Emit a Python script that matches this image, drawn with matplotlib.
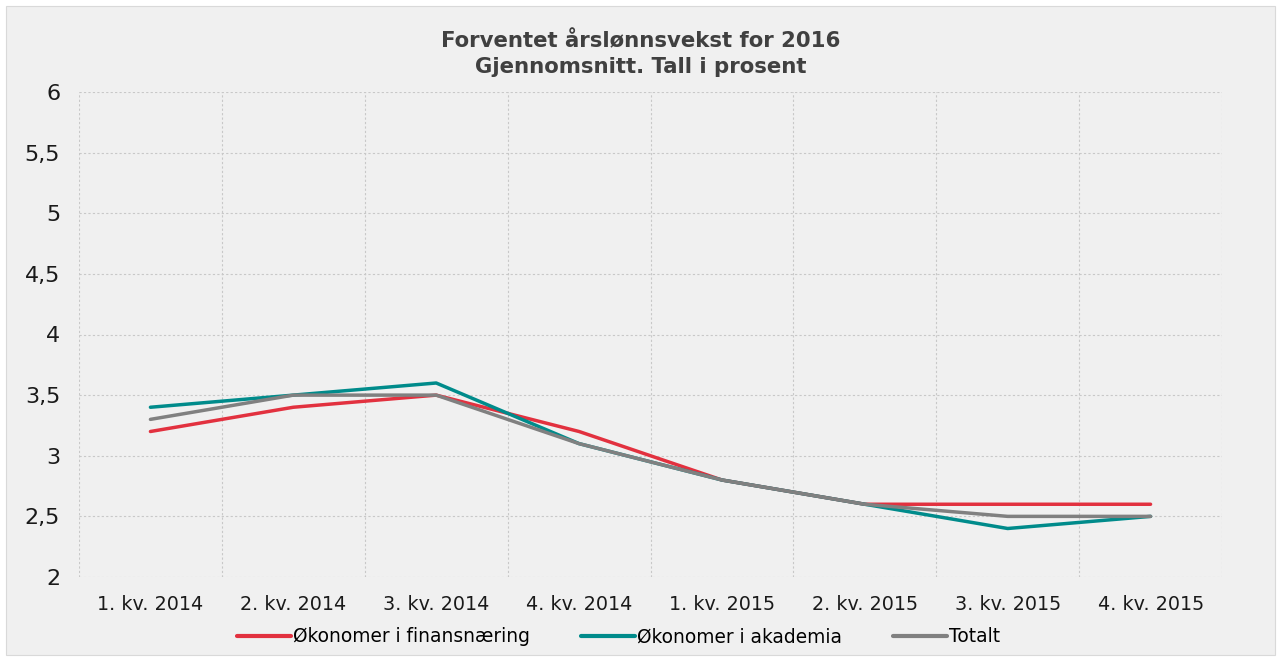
import matplotlib.pyplot as plt
from matplotlib.patches import Rectangle

plt.rcParams["font.family"] = ["DejaVu Sans"]

categories = ["1. kv. 2014", "2. kv. 2014", "3. kv. 2014", "4. kv. 2014",
              "1. kv. 2015", "2. kv. 2015", "3. kv. 2015", "4. kv. 2015"]
finans = [3.2, 3.4, 3.5, 3.2, 2.8, 2.6, 2.6, 2.6]
akademia = [3.4, 3.5, 3.6, 3.1, 2.8, 2.6, 2.4, 2.5]
totalt = [3.3, 3.5, 3.5, 3.1, 2.8, 2.6, 2.5, 2.5]
yticks = [2, 2.5, 3, 3.5, 4, 4.5, 5, 5.5, 6]
ytick_labels = ["2", "2,5", "3", "3,5", "4", "4,5", "5", "5,5", "6"]

BG = "#f0f0f0"

fig = plt.figure(figsize=(12.81, 6.60), dpi=100, facecolor="white")
fig.patches.append(Rectangle((6 / 1281, 5 / 660), 1269 / 1281, 649 / 660,
                             transform=fig.transFigure, facecolor=BG,
                             edgecolor="#d9d9d9", linewidth=0.8, zorder=-5))

ax = fig.add_axes([79 / 1281, 1 - 577 / 660, (1222 - 79) / 1281, (577 - 92) / 660])
ax.set_zorder(2)
ax.set_facecolor(BG)

x = range(len(categories))
ax.plot(x, finans, color="#e2313f", lw=2.5, label="Økonomer i finansnæring",
        solid_capstyle="round", zorder=3)
ax.plot(x, akademia, color="#008b8b", lw=2.5, label="Økonomer i akademia",
        solid_capstyle="round", zorder=3)
ax.plot(x, totalt, color="#808080", lw=2.5, label="Totalt",
        solid_capstyle="round", zorder=4)

ax.set_xlim(-0.5, len(categories) - 0.5)
ax.set_ylim(2, 6)
ax.set_yticks(yticks)
ax.set_yticklabels(ytick_labels, fontsize=16, color="#1a1a1a")
ax.set_xticks(list(x))
ax.set_xticklabels(categories, fontsize=13.8, color="#1a1a1a")
ax.set_xticks([i - 0.5 for i in range(len(categories) + 1)], minor=True)
ax.tick_params(which="both", length=0)
ax.tick_params(axis="x", pad=13)
ax.tick_params(axis="y", pad=13.5)
ax.grid(True, axis="y", which="major", color="#c8c8c8", linestyle=(0, (2, 2)), lw=0.8)
ax.grid(True, axis="x", which="minor", color="#c8c8c8", linestyle=(0, (2, 2)), lw=0.8)
for s in ax.spines.values():
    s.set_visible(False)

fig.text(0.5, 1 - 54 / 660, "Forventet årslønnsvekst for 2016\nGjennomsnitt. Tall i prosent",
         ha="center", va="center", fontsize=15.3, fontweight="bold", color="#404040",
         linespacing=1.35)

leg = fig.legend(loc="center", bbox_to_anchor=(618.5 / 1281, 1 - 637 / 660), ncol=3,
                 frameon=False, fontsize=13.4, handlelength=2.9, handletextpad=0.1,
                 columnspacing=2.75)
for line in leg.get_lines():
    line.set_linewidth(3)

fig.savefig("out.png", dpi=100, facecolor="white")
